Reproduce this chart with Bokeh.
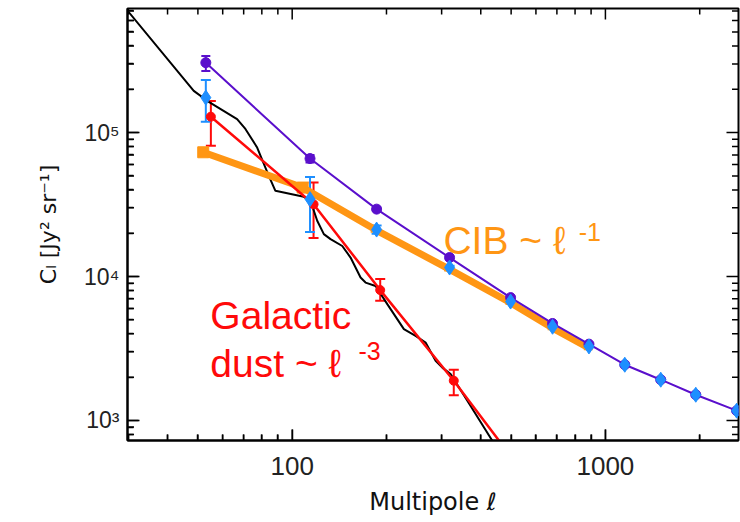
import math
from bokeh.plotting import figure
from bokeh.models import Range1d, FixedTicker, Label, Whisker, ColumnDataSource, TeeHead
from bokeh.embed import file_html
from bokeh.resources import INLINE

# ---------------- data ----------------
ell = [53, 114, 186, 318, 498, 678, 886, 1153, 1502, 1943, 2624]
total_c = [3.06e5, 6.6e4, 2.94e4, 1.355e4, 7.14e3, 4.72e3, 3.39e3, 2.44e3, 1.92e3, 1.51e3, 1.17e3]
total_lo = [2.68e5, 6.2e4, 2.85e4, 1.32e4, 7.0e3, 4.65e3, 3.35e3, 2.42e3, 1.9e3, 1.5e3, 1.16e3]
total_hi = [3.41e5, 7.0e4, 3.03e4, 1.39e4, 7.3e3, 4.8e3, 3.43e3, 2.46e3, 1.94e3, 1.52e3, 1.18e3]

cib_c = [1.75e5, 3.45e4, 2.12e4, 1.155e4, 6.7e3, 4.48e3, 3.27e3, 2.44e3, 1.92e3, 1.51e3, 1.17e3]
cib_lo = [1.19e5, 2.04e4, 1.98e4, 1.12e4, 6.55e3, 4.4e3, 3.22e3, 2.4e3, 1.89e3, 1.49e3, 1.15e3]
cib_hi = [2.32e5, 4.92e4, 2.26e4, 1.19e4, 6.85e3, 4.56e3, 3.32e3, 2.48e3, 1.95e3, 1.53e3, 1.19e3]

model_ell = [52, 108, 184, 316, 496, 676, 882]
model_c = [7.3e4, 4.15e4, 2.12e4, 1.13e4, 6.6e3, 4.4e3, 3.2e3]
model_lo = [6.9e4, 3.95e4, 2.05e4, 1.1e4, 6.45e3, 4.3e3, 3.13e3]
model_hi = [7.8e4, 4.35e4, 2.2e4, 1.16e4, 6.75e3, 4.5e3, 3.27e3]

dust_ell = [55, 117, 191, 328]
dust_c = [1.29e5, 3.18e4, 8.05e3, 1.89e3]
dust_lo = [8.1e4, 1.85e4, 6.78e3, 1.5e3]
dust_hi = [1.66e5, 4.5e4, 9.6e3, 2.25e3]
dust_line_ell = [55, 117, 191, 328, 470]
dust_line_c = [1.29e5, 3.18e4, 8.05e3, 1.89e3, 670]

template_ell = [28, 48.5, 54.5, 66.7, 70.9, 77.3, 84.2, 88.4, 108.9, 114.4, 120.2, 126.2,
                132.6, 144.5, 153.6, 165.3, 171.5, 184.6, 201.2, 227.3, 247.7, 266.6,
                287, 301.5, 320.4, 362.4, 435.5, 450]
template_c = [8.3e5, 1.95e5, 1.62e5, 1.24e5, 1.06e5, 7.87e4, 5.0e4, 3.94e4, 3.58e4, 3.36e4,
              2.44e4, 1.97e4, 1.82e4, 1.63e4, 1.355e4, 9.84e3, 9.08e3, 8.6e3, 6.43e3,
              4.31e3, 3.87e3, 3.48e3, 2.6e3, 2.33e3, 2.1e3, 1.37e3, 723, 660]

x_major = [100, 1000]
x_minor = [30, 40, 50, 60, 70, 80, 90, 200, 300, 400, 500, 600, 700, 800, 900, 2000]
y_major = [1e3, 1e4, 1e5]
y_minor = [800, 900] + [k * 1e3 for k in range(2, 10)] + [k * 1e4 for k in range(2, 10)] + [k * 1e5 for k in range(2, 8)]

X0, X1 = 29.8, 2660
Y0, Y1 = 726, 7.28e5

PURPLE = "#5A0FCC"
BLUE = "#1E8FFF"
ORANGE = "#FF9614"
RED = "#FF0A0A"
FONT = "Liberation Sans"
AXFONT = "DejaVu Sans"

p = figure(width=740, height=522, x_axis_type="log", y_axis_type="log",
           x_range=Range1d(X0, X1), y_range=Range1d(Y0, Y1),
           output_backend="svg", toolbar_location=None,
           min_border_left=127, min_border_right=2, min_border_top=8, min_border_bottom=82)
p.grid.visible = False
p.outline_line_color = "black"
p.outline_line_width = 2
p.background_fill_color = "white"
p.border_fill_color = "white"

xa = p.xaxis[0]
ya = p.yaxis[0]
for ax, major, minor in ((xa, x_major, x_minor), (ya, y_major, y_minor)):
    ax.ticker = FixedTicker(ticks=major, minor_ticks=minor)
    ax.axis_line_color = "black"
    ax.axis_line_width = 2
    ax.major_tick_line_width = 1.5
    ax.minor_tick_line_width = 1.5
    ax.major_tick_in = 11
    ax.major_tick_out = 0
    ax.minor_tick_in = 6
    ax.minor_tick_out = 0

xa.major_label_overrides = {100: "100", 1000: "1000"}
xa.major_label_text_font = FONT
xa.major_label_text_font_size = "26px"
xa.major_label_text_color = "#222222"
xa.major_label_standoff = 16
xa.axis_label = "Multipole ℓ"
xa.axis_label_text_font = AXFONT
xa.axis_label_text_font_style = "normal"
xa.axis_label_text_font_size = "24px"
xa.axis_label_text_color = "#111111"
xa.axis_label_standoff = 10
ya.major_label_overrides = {1000: "10³", 10000: "10⁴", 100000: "10⁵"}
ya.major_label_text_font = FONT
ya.major_label_text_font_size = "23px"
ya.major_label_text_color = "#222222"
ya.major_label_standoff = 8
ya.axis_label = "Cₗ [Jy² sr⁻¹]"
ya.axis_label_text_font = AXFONT
ya.axis_label_text_font_style = "normal"
ya.axis_label_text_font_size = "22px"
ya.axis_label_text_color = "#111111"
ya.axis_label_standoff = 20

# inward ticks on all four sides of the frame (clipped to the frame)
p.scatter(x_major, [Y0] * len(x_major), marker="dash", angle=math.pi / 2, size=22, line_width=1.5, line_color="black")
p.scatter(x_major, [Y1] * len(x_major), marker="dash", angle=math.pi / 2, size=22, line_width=1.5, line_color="black")
p.scatter(x_minor, [Y0] * len(x_minor), marker="dash", angle=math.pi / 2, size=12, line_width=1.5, line_color="black")
p.scatter(x_minor, [Y1] * len(x_minor), marker="dash", angle=math.pi / 2, size=12, line_width=1.5, line_color="black")
p.scatter([X0] * len(y_major), y_major, marker="dash", size=24, line_width=1.5, line_color="black")
p.scatter([X1] * len(y_major), y_major, marker="dash", size=24, line_width=1.5, line_color="black")
p.scatter([X0] * len(y_minor), y_minor, marker="dash", size=13, line_width=1.5, line_color="black")
p.scatter([X1] * len(y_minor), y_minor, marker="dash", size=13, line_width=1.5, line_color="black")

# black template curve
p.line(template_ell, template_c, line_color="black", line_width=2)

# orange CIB model
p.line(model_ell, model_c, line_color=ORANGE, line_width=7)
p.scatter(model_ell[:2], model_c[:2], marker="square", size=11, color=ORANGE)
msrc = ColumnDataSource(dict(x=model_ell, lo=model_lo, hi=model_hi))
p.add_layout(Whisker(source=msrc, base="x", lower="lo", upper="hi", line_color=ORANGE, line_width=2,
                     lower_head=TeeHead(size=9, line_color=ORANGE, line_width=2),
                     upper_head=TeeHead(size=9, line_color=ORANGE, line_width=2)))

# red dust
p.line(dust_line_ell, dust_line_c, line_color=RED, line_width=2.5)
dsrc = ColumnDataSource(dict(x=dust_ell, lo=dust_lo, hi=dust_hi))
p.add_layout(Whisker(source=dsrc, base="x", lower="lo", upper="hi", line_color=RED, line_width=2,
                     lower_head=TeeHead(size=10, line_color=RED, line_width=2),
                     upper_head=TeeHead(size=10, line_color=RED, line_width=2)))
p.scatter(dust_ell, dust_c, marker="circle", size=9, color=RED)

# purple total
p.line(ell, total_c, line_color=PURPLE, line_width=2)
tsrc = ColumnDataSource(dict(x=ell, lo=total_lo, hi=total_hi))
p.add_layout(Whisker(source=tsrc, base="x", lower="lo", upper="hi", line_color=PURPLE, line_width=2,
                     lower_head=TeeHead(size=9, line_color=PURPLE, line_width=2),
                     upper_head=TeeHead(size=9, line_color=PURPLE, line_width=2)))
p.scatter(ell, total_c, marker="circle", size=10, color=PURPLE)

# blue CIB
csrc = ColumnDataSource(dict(x=ell, lo=cib_lo, hi=cib_hi))
p.add_layout(Whisker(source=csrc, base="x", lower="lo", upper="hi", line_color=BLUE, line_width=2,
                     lower_head=TeeHead(size=10, line_color=BLUE, line_width=2),
                     upper_head=TeeHead(size=10, line_color=BLUE, line_width=2)))
p.scatter(ell, cib_c, marker="diamond", size=15, color=BLUE)

# text annotations
p.add_layout(Label(x=304, y=1.77e4, text="CIB ~ ℓ", text_color=ORANGE, text_font=FONT,
                   text_font_size="39px", text_baseline="alphabetic"))
p.add_layout(Label(x=822, y=2.04e4, text="-1", text_color=ORANGE, text_font=FONT,
                   text_font_size="25px", text_baseline="alphabetic"))
p.add_layout(Label(x=54.8, y=5.33e3, text="Galactic", text_color=RED, text_font=FONT,
                   text_font_size="39px", text_baseline="alphabetic"))
p.add_layout(Label(x=54.8, y=2.47e3, text="dust ~ ℓ", text_color=RED, text_font=FONT,
                   text_font_size="39px", text_baseline="alphabetic"))
p.add_layout(Label(x=162.8, y=3.05e3, text="-3", text_color=RED, text_font=FONT,
                   text_font_size="25px", text_baseline="alphabetic"))

open("out.html", "w").write(file_html(p, INLINE))
